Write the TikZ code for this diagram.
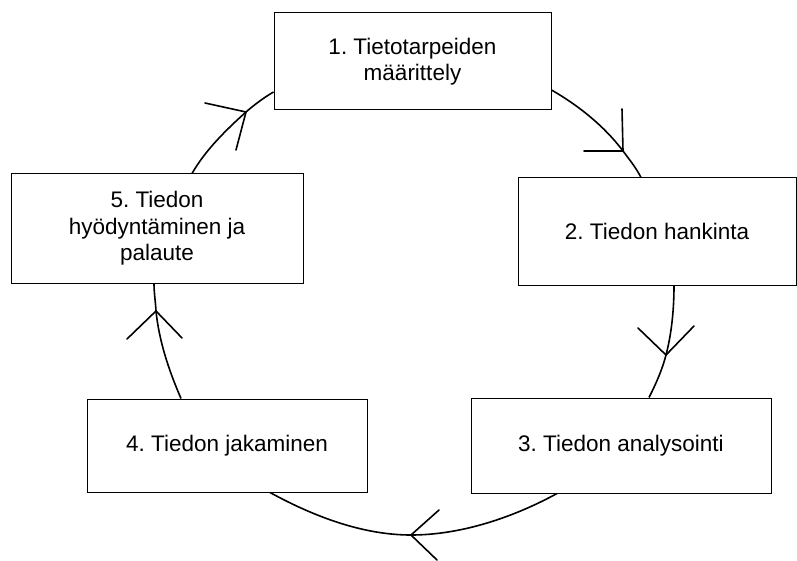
\documentclass[tikz,border=0pt]{standalone}
\usepackage{fontspec}
\setmainfont{Liberation Sans}
\frenchspacing
\begin{document}
\begin{tikzpicture}[x=1pt,y=-1pt,
  stage/.style={draw, line width=1pt, fill=white, align=center, inner sep=0pt,
                font=\fontsize{22.5}{26.5}\selectfont},
  flow/.style={line width=1.6pt},
  barb/.style={line width=1.6pt, line cap=round}]
\useasboundingbox (0,0) rectangle (797,561);

% the five stages of the cycle
\node[stage, minimum width=277pt, minimum height=97pt]  (n1) at (412.5,61.5) {1. Tietotarpeiden\\määrittely};
\node[stage, minimum width=278pt, minimum height=107pt] (n2) at (657,231.5)  {2. Tiedon hankinta};
\node[stage, minimum width=300pt, minimum height=95pt]  (n3) at (621,445.5)  {3. Tiedon analysointi};
\node[stage, minimum width=280pt, minimum height=93pt]  (n4) at (227,445.5)  {4. Tiedon jakaminen};
\node[stage, minimum width=292pt, minimum height=109pt] (n5) at (157,228.5)  {5. Tiedon\\hyödyntäminen ja\\palaute};

% arrow tips along the connecting arcs
\coordinate (tA) at (246,112);
\coordinate (tB) at (623,151);
\coordinate (tC) at (666,355);
\coordinate (tD) at (411,535);
\coordinate (tE) at (156,311);

% 5 -> 1
\draw[flow] ([xshift=35pt]n5.north) .. controls +(13.5,-23.5) and +(-20,18) .. (tA)
            .. controls +(8.3,-7.3) and +(-9.4,5.5) .. ([yshift=-30.5pt]n1.west);
\draw[barb] (tA) ++(-41,-9) -- (tA) -- ++(-10,38);

% 1 -> 2
\draw[flow] ([yshift=-28.5pt]n1.east) .. controls +(27,15.5) and +(-18.6,-24.8) .. (tB)
            .. controls +(6.6,8.8) and +(-5,-9.8) .. ([xshift=-16pt]n2.north);
\draw[barb] (tB) ++(-1,-42) -- (tB) -- ++(-39,0);

% 2 -> 3
\draw[flow] ([xshift=17pt]n2.south) .. controls +(0,23) and +(5.8,-22.3) .. (tC)
            .. controls +(-3.9,15) and +(7,-13.8) .. ([xshift=28pt]n3.north);
\draw[barb] (tC) ++(-28,-27) -- (tC) -- ++(28,-29);

% 3 -> 4
\draw[flow] ([xshift=-64pt]n3.south) .. controls +(-44,24) and +(50,0) .. (tD)
            .. controls +(-49,0) and +(43,23.5) .. ([xshift=43pt]n4.south);
\draw[barb] (tD) ++(28,-25) -- (tD) -- ++(26,25);

% 4 -> 5
\draw[flow] ([xshift=-46pt]n4.north) .. controls +(-12,-27.6) and +(3,30) .. (tE)
            .. controls +(-0.5,-9.3) and +(0,9.3) .. ([xshift=-3pt]n5.south);
\draw[barb] (tE) ++(-29,28) -- (tE) -- ++(26,27);
\end{tikzpicture}
\end{document}
